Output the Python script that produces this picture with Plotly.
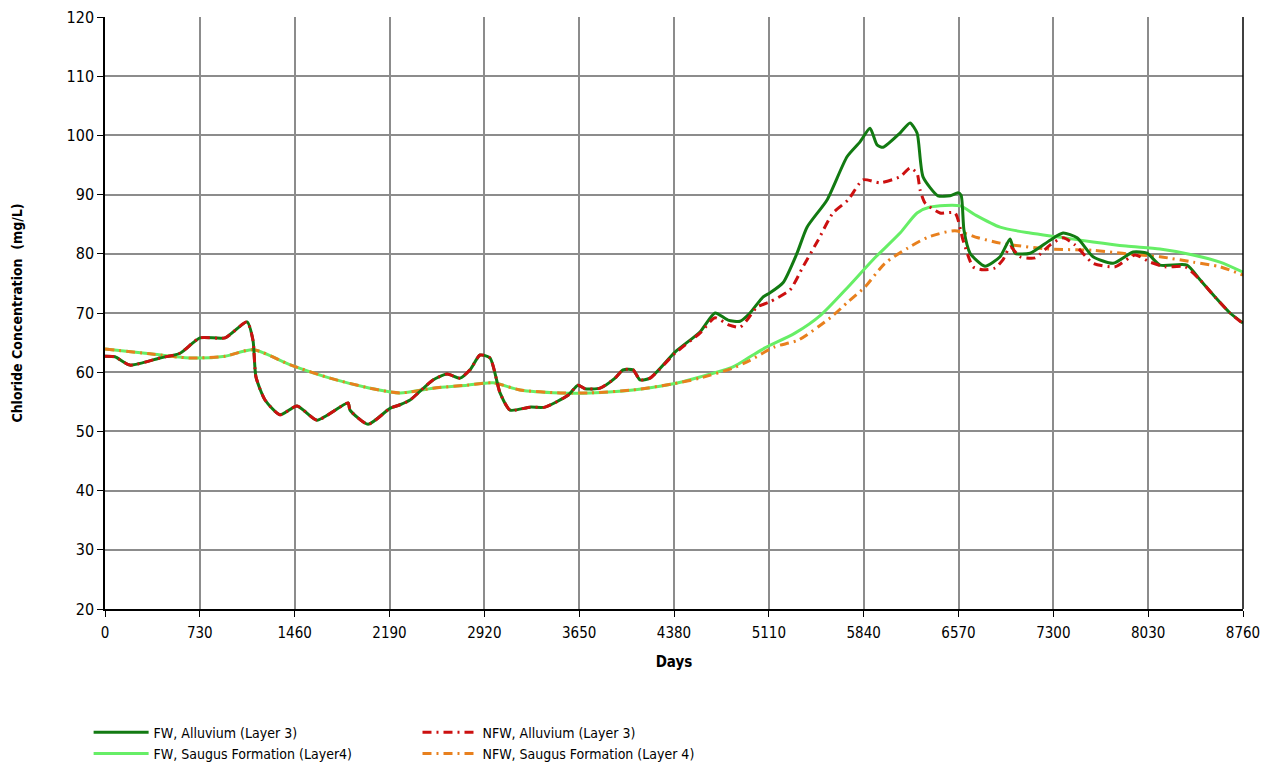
import plotly.graph_objects as go

# ---------------- data ----------------
fw_all_days = [0, 77, 192, 423, 577, 731, 924, 1093, 1139, 1162, 1232, 1347, 1478, 1632, 1871, 1886,
               2025, 2194, 2271, 2348, 2525, 2633, 2733, 2810, 2887, 2964, 3041, 3118, 3272, 3387,
               3564, 3641, 3695, 3811, 3926, 3988, 4065, 4118, 4195, 4388, 4580, 4696, 4796, 4888,
               4965, 5065, 5119, 5219, 5327, 5404, 5558, 5712, 5812, 5889, 5943, 5989, 6120, 6197,
               6251, 6297, 6412, 6505, 6566, 6590, 6612, 6659, 6774, 6890, 6967, 7005, 7121, 7275,
               7375, 7483, 7606, 7760, 7914, 8021, 8121, 8329, 8429, 8545, 8660, 8760]
fw_all_vals = [62.7, 62.6, 61.2, 62.4, 63.2, 65.8, 65.8, 68.5, 65.4, 59.2, 55.3, 52.8, 54.3, 51.9, 54.8, 53.6,
               51.2, 53.9, 54.5, 55.3, 58.7, 59.7, 59.0, 60.4, 62.9, 62.4, 56.5, 53.6, 54.1, 54.1,
               56.1, 57.8, 57.2, 57.3, 59.0, 60.4, 60.4, 58.7, 59.0, 63.4, 66.8, 70.0, 68.8, 68.6,
               70.0, 72.7, 73.4, 75.1, 80.1, 84.5, 89.1, 96.4, 98.9, 101.2, 98.4, 98.0, 100.4, 102.1,
               100.4, 93.0, 89.8, 89.8, 90.3, 89.9, 84.0, 80.1, 77.9, 79.5, 82.5, 80.1, 80.1, 82.3,
               83.5, 82.7, 79.5, 78.4, 80.3, 80.1, 78.1, 78.1, 75.6, 72.7, 70.0, 68.3]

nfw_all_days = [0, 77, 192, 423, 577, 731, 924, 1093, 1139, 1162, 1232, 1347, 1478, 1632, 1871, 1886,
                2025, 2194, 2271, 2348, 2525, 2633, 2733, 2810, 2887, 2964, 3041, 3118, 3272, 3387,
                3564, 3641, 3695, 3811, 3926, 3988, 4065, 4118, 4195, 4388, 4580, 4696, 4800, 4888,
                4942, 5019, 5119, 5273, 5373, 5489, 5604, 5720, 5835, 5966, 6120, 6197, 6251, 6274,
                6312, 6428, 6543, 6605, 6682, 6759, 6851, 6913, 6967, 7044, 7159, 7275, 7375, 7467,
                7606, 7775, 7929, 8044, 8160, 8314, 8429, 8545, 8660, 8760]
nfw_all_vals = [62.7, 62.6, 61.2, 62.4, 63.2, 65.8, 65.8, 68.5, 65.4, 59.2, 55.3, 52.8, 54.3, 51.9, 54.8, 53.6,
                51.2, 53.9, 54.5, 55.3, 58.7, 59.7, 59.0, 60.4, 62.9, 62.4, 56.5, 53.6, 54.1, 54.1,
                56.1, 57.8, 57.2, 57.3, 59.0, 60.4, 60.4, 58.7, 59.0, 63.2, 66.6, 69.2, 68.0, 67.6,
                68.8, 71.0, 71.9, 73.9, 77.8, 82.3, 86.9, 89.1, 92.5, 92.0, 93.0, 94.5, 93.6, 90.8,
                88.6, 86.9, 86.9, 82.3, 77.8, 77.3, 77.6, 79.0, 81.2, 79.5, 79.3, 81.5, 82.7, 81.5,
                78.4, 77.8, 79.8, 78.6, 77.8, 77.8, 75.6, 72.7, 70.0, 68.2]

fw_sau_days = [0, 346, 654, 924, 1139, 1432, 1732, 2040, 2271, 2525, 2787, 2987, 3195, 3503, 3734,
               4065, 4365, 4580, 4834, 4965, 5080, 5311, 5512, 5720, 5912, 6120, 6251, 6351, 6582,
               6697, 6890, 7121, 7352, 7606, 7860, 8121, 8375, 8583, 8760]
fw_sau_vals = [63.9, 63.1, 62.4, 62.7, 63.8, 61.2, 59.0, 57.3, 56.5, 57.3, 57.8, 58.2, 57.0, 56.5, 56.5,
               57.0, 58.0, 59.2, 60.9, 62.6, 64.1, 66.6, 69.7, 74.4, 79.0, 83.5, 86.9, 87.9, 88.1,
               86.6, 84.5, 83.5, 82.8, 82.0, 81.3, 80.8, 79.8, 78.6, 76.9]

nfw_sau_days = [0, 346, 654, 924, 1139, 1432, 1732, 2040, 2271, 2525, 2787, 2987, 3195, 3503, 3734,
                4065, 4365, 4580, 4834, 4965, 5157, 5334, 5589, 5720, 5850, 6004, 6182, 6335, 6543,
                6720, 6890, 6982, 7267, 7606, 7860, 8121, 8375, 8583, 8760]
nfw_sau_vals = [63.9, 63.1, 62.4, 62.7, 63.8, 61.2, 59.0, 57.3, 56.5, 57.3, 57.8, 58.2, 57.0, 56.5, 56.5,
                57.0, 58.0, 59.0, 60.7, 62.0, 64.3, 65.4, 69.3, 71.9, 74.4, 78.4, 81.0, 82.8, 83.9,
                82.7, 81.8, 81.5, 80.8, 80.6, 80.0, 79.5, 78.6, 77.8, 76.4]

x_ticks = list(range(0, 8761, 730))
y_ticks = list(range(20, 121, 10))

# ---------------- figure ----------------
fig = go.Figure()
fig.add_trace(go.Scatter(x=fw_sau_days, y=fw_sau_vals, mode="lines", name="FW, Saugus Formation (Layer4)",
                         line=dict(color="#66ee66", width=3, shape="spline", smoothing=0.7),
                         legend="legend", legendrank=2))
fig.add_trace(go.Scatter(x=nfw_sau_days, y=nfw_sau_vals, mode="lines", name="NFW, Saugus Formation (Layer 4)",
                         line=dict(color="#e8801e", width=3, dash="9px,5px,2px,5px", shape="spline", smoothing=0.7),
                         legend="legend2", legendrank=2))
fig.add_trace(go.Scatter(x=fw_all_days, y=fw_all_vals, mode="lines", name="FW, Alluvium (Layer 3)",
                         line=dict(color="#127a12", width=3, shape="spline", smoothing=0.6),
                         legend="legend", legendrank=1))
fig.add_trace(go.Scatter(x=nfw_all_days, y=nfw_all_vals, mode="lines", name="NFW, Alluvium (Layer 3)",
                         line=dict(color="#cc1010", width=3, dash="9px,5px,2px,5px", shape="spline", smoothing=0.6),
                         legend="legend2", legendrank=1))

font_main = "DejaVu Sans Condensed, Liberation Sans Narrow, Arial Narrow, Liberation Sans, Arial, sans-serif"

fig.update_layout(
    width=1273, height=766,
    margin=dict(l=97, r=38, t=9, b=165, autoexpand=False),
    paper_bgcolor="white", plot_bgcolor="white",
    font=dict(family=font_main, size=14, color="#000"),
    showlegend=True,
    legend=dict(x=-0.0144, y=-0.182, xanchor="left", yanchor="top", orientation="v",
                font=dict(family=font_main, size=14), tracegroupgap=0, itemwidth=55,
                bgcolor="rgba(0,0,0,0)"),
    legend2=dict(x=0.2746, y=-0.182, xanchor="left", yanchor="top", orientation="v",
                 font=dict(family=font_main, size=14), tracegroupgap=0, itemwidth=55,
                 bgcolor="rgba(0,0,0,0)"),
    xaxis=dict(range=[0, 8760], tickvals=x_ticks, ticktext=[str(v) for v in x_ticks],
               showgrid=True, gridcolor="#8c8c8c", gridwidth=2,
               showline=True, linecolor="#000", linewidth=1.5,
               ticks="outside", ticklen=6, tickcolor="#000", automargin=False,
               ticklabelstandoff=3, ticklabeloverflow="allow",
               tickfont=dict(family=font_main, size=15),
               title=dict(text="<b>Days</b>", font=dict(family=font_main, size=15), standoff=16),
               zeroline=False),
    yaxis=dict(range=[20, 120], tickvals=y_ticks,
               showgrid=True, gridcolor="#8c8c8c", gridwidth=2,
               showline=True, linecolor="#000", linewidth=1.5,
               ticks="outside", ticklen=6, tickcolor="#000", automargin=False,
               ticklabeloverflow="allow",
               tickfont=dict(family=font_main, size=16),
               title=dict(text="<b>Chloride Concentration  (mg/L)</b>", font=dict(family=font_main, size=14), standoff=41),
               zeroline=False),
    shapes=[dict(type="line", xref="paper", yref="paper", x0=1, x1=1, y0=0, y1=1,
                 line=dict(color="#000", width=1.5))],
)

fig.write_html("out.html")
